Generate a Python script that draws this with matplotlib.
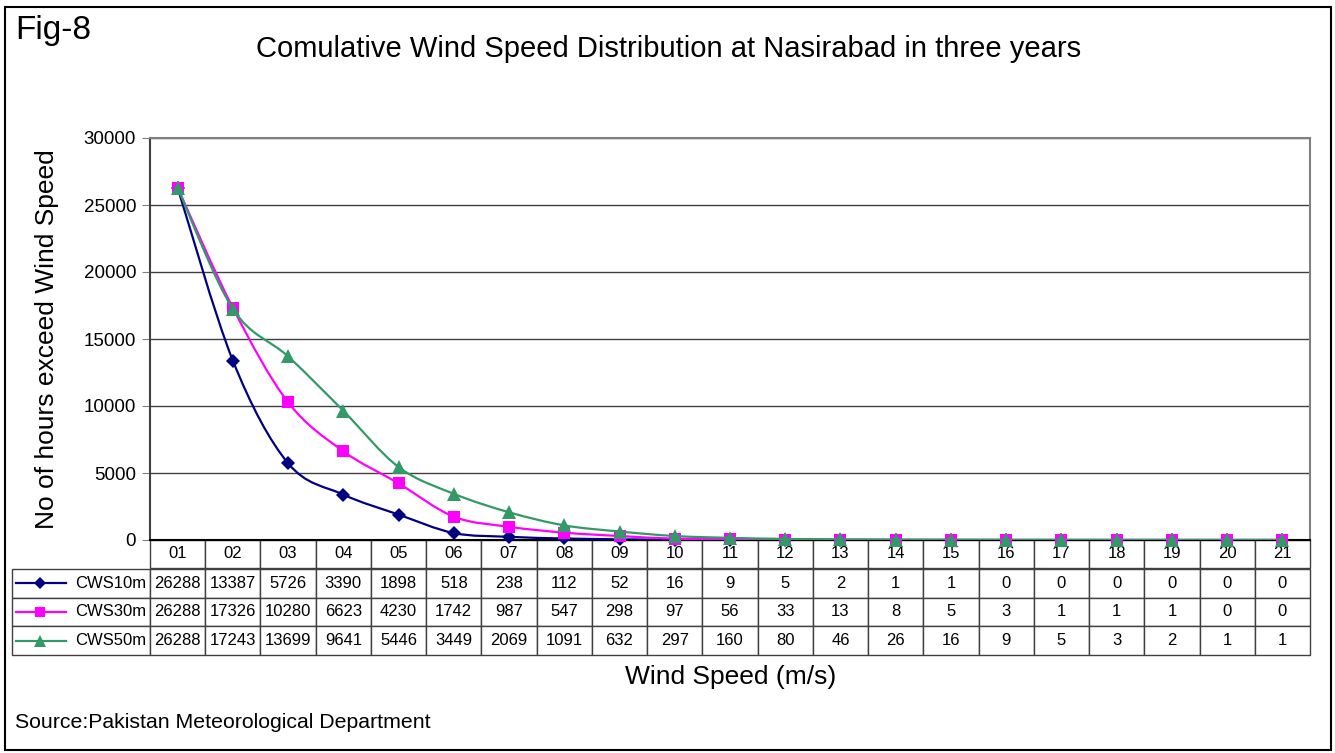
import matplotlib
matplotlib.use("Agg")
import matplotlib.pyplot as plt
import numpy as np
from matplotlib.path import Path
from matplotlib.patches import PathPatch, Rectangle
from matplotlib.lines import Line2D

plt.rcParams['font.family'] = ['Liberation Sans', 'DejaVu Sans']

categories = ["01", "02", "03", "04", "05", "06", "07", "08", "09", "10", "11",
              "12", "13", "14", "15", "16", "17", "18", "19", "20", "21"]
cws10 = [26288, 13387, 5726, 3390, 1898, 518, 238, 112, 52, 16, 9, 5, 2, 1, 1, 0, 0, 0, 0, 0, 0]
cws30 = [26288, 17326, 10280, 6623, 4230, 1742, 987, 547, 298, 97, 56, 33, 13, 8, 5, 3, 1, 1, 1, 0, 0]
cws50 = [26288, 17243, 13699, 9641, 5446, 3449, 2069, 1091, 632, 297, 160, 80, 46, 26, 16, 9, 5, 3, 2, 1, 1]
series_names = ["CWS10m", "CWS30m", "CWS50m"]
series_values = [cws10, cws30, cws50]
colors = ["#000080", "#FF00FF", "#339966"]
markers = ["D", "s", "^"]
msizes = [7.5, 8, 10]

W, H = 1335, 753
fig = plt.figure(figsize=(W / 100, H / 100), dpi=100)

def fx(px):
    return px / W

def fy(py):
    return 1 - py / H

ax_l, ax_r, ax_t, ax_b = 150, 1310, 138, 540
ax = fig.add_axes([fx(ax_l), fy(ax_b), (ax_r - ax_l) / W, (ax_b - ax_t) / H])

x = np.arange(len(categories))


def smooth_path(xs, ys):
    pts = np.column_stack([xs, ys]).astype(float)
    verts = [pts[0]]
    codes = [Path.MOVETO]
    n = len(pts)
    for i in range(n - 1):
        p0 = pts[i - 1] if i > 0 else pts[i]
        p1 = pts[i]
        p2 = pts[i + 1]
        p3 = pts[i + 2] if i + 2 < n else pts[i + 1]
        c1 = p1 + (p2 - p0) / 6.0
        c2 = p2 - (p3 - p1) / 6.0
        verts += [c1, c2, p2]
        codes += [Path.CURVE4] * 3
    return Path(verts, codes)


for i, (vals, c, m, ms) in enumerate(zip(series_values, colors, markers, msizes)):
    patch = PathPatch(smooth_path(x, vals), facecolor='none', edgecolor=c, lw=1.6, zorder=3 + i)
    ax.add_patch(patch)
    ax.plot(x, vals, linestyle='none', marker=m, color=c, markersize=ms, zorder=3 + i,
            clip_on=False, markeredgewidth=0)

ax.set_xlim(-0.5, len(categories) - 0.5)
ax.set_ylim(0, 30000)
ax.set_yticks(np.arange(0, 30001, 5000))
ax.set_yticklabels([str(v) for v in range(0, 30001, 5000)], fontsize=13.5)
ax.set_xticks([])
ax.yaxis.grid(True, color='#404040', lw=1)
ax.set_axisbelow(True)
ax.tick_params(axis='y', length=6, color='#808080', pad=4)
ax.spines['left'].set_color('#404040')
ax.spines['left'].set_linewidth(1.5)
ax.spines['bottom'].set_color('black')
ax.spines['bottom'].set_linewidth(1.5)
ax.spines['top'].set_color('#808080')
ax.spines['top'].set_linewidth(1.5)
ax.spines['right'].set_color('#808080')
ax.spines['right'].set_linewidth(1.5)

axh = ax_b - ax_t
axw = ax_r - ax_l
ax.set_ylabel("No of hours exceed Wind Speed", fontsize=19)
ax.yaxis.set_label_coords((59 - ax_l) / axw, 0.5)

# header table (category labels)
hdr = ax.table(cellText=[categories], cellLoc='center',
               bbox=[0, -(568 - ax_b) / axh, 1, (568 - ax_b) / axh])
hdr.auto_set_font_size(False)
hdr.set_fontsize(12)
for cell in hdr.get_celld().values():
    cell.set_edgecolor('#404040')
    cell.set_linewidth(1)

# data table
tab_l, tab_t, tab_b = 12, 569, 655
label_w = ax_l - tab_l
cat_w = (ax_r - ax_l) / len(categories)
col_widths = [label_w] + [cat_w] * len(categories)
cell_text = [[name] + [str(v) for v in vals] for name, vals in zip(series_names, series_values)]
data = ax.table(cellText=cell_text, cellLoc='center', colWidths=col_widths,
                bbox=[(tab_l - ax_l) / axw, -(tab_b - ax_b) / axh,
                      (ax_r - tab_l) / axw, (tab_b - tab_t) / axh])
data.auto_set_font_size(False)
data.set_fontsize(12)
for (r, c), cell in data.get_celld().items():
    cell.set_edgecolor('#404040')
    cell.set_linewidth(1)
    if c == 0:
        cell._loc = 'right'
        cell.PAD = 0.03
        cell.get_text().set_ha('right')

# legend keys in the table
row_h = (tab_b - tab_t) / 3
for i, (c, m, ms) in enumerate(zip(colors, markers, msizes)):
    yc = fy(tab_t + row_h * (i + 0.5))
    fig.add_artist(Line2D([fx(16), fx(66)], [yc, yc], color=c, lw=1.6,
                          transform=fig.transFigure))
    fig.add_artist(Line2D([fx(40)], [yc], color=c, marker=m, markersize=ms - 1.5,
                          markeredgewidth=0, transform=fig.transFigure))

fig.text(fx(15), fy(31), "Fig-8", fontsize=24, ha='left', va='center')
fig.text(fx(669), fy(49), "Comulative Wind Speed Distribution at Nasirabad in three years",
         fontsize=21, ha='center', va='center')
fig.text(fx(731), fy(677), "Wind Speed (m/s)", fontsize=19, ha='center', va='center')
fig.text(fx(15), fy(723), "Source:Pakistan Meteorological Department", fontsize=15.3,
         ha='left', va='center')

fig.add_artist(Rectangle((fx(5), fy(750)), fx(1331) - fx(5), fy(7) - fy(750),
                         transform=fig.transFigure, fill=False, edgecolor='black', lw=1.5))

fig.savefig("out.png", dpi=100)
